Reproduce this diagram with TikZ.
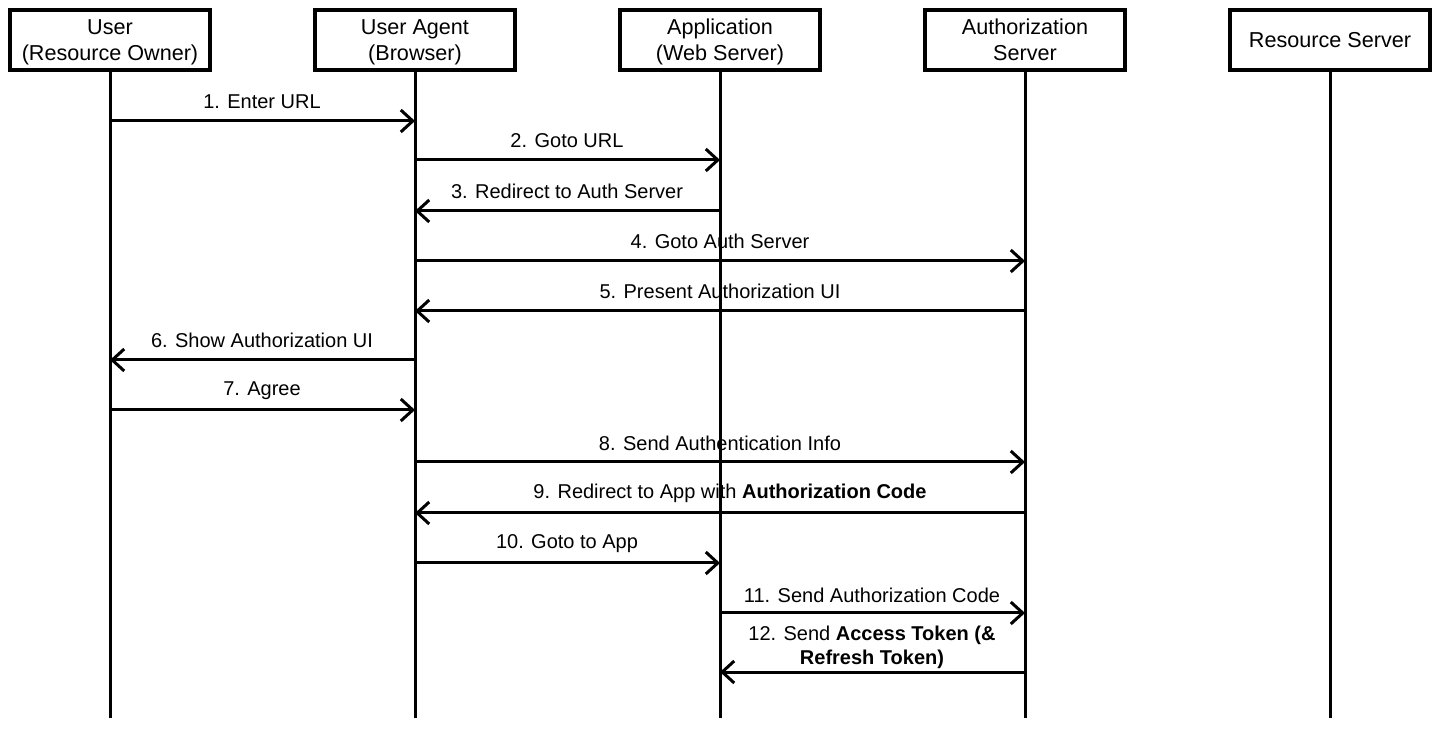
\documentclass[tikz,border=0pt]{standalone}
\usepackage{fontspec}
\setmainfont{Liberation Sans}
\usetikzlibrary{arrows.meta}
\begin{document}
\begin{tikzpicture}[x=0.5pt,y=-0.5pt,
 actor/.style={draw,line width=2pt,minimum width=100pt,minimum height=30pt,align=center,font=\fontsize{10.8}{13}\selectfont,inner sep=0pt,text depth=0pt},
 life/.style={line width=1.5pt},
 msg/.style={line width=1.5pt,-{Straight Barb[length=6pt,width=11pt,line width=1.5pt]}},
 lbl/.style={font=\fontsize{10}{12}\selectfont,inner sep=0pt,align=center}]
\useasboundingbox[fill=white] (0,0) rectangle (1440,731);
% actors
\node[actor] (A) at (110,40) {User\\(Resource Owner)};
\node[actor] (B) at (415,40) {User Agent\\(Browser)};
\node[actor] (C) at (720,40) {Application\\(Web Server)};
\node[actor] (D) at (1025,40) {Authorization\\Server};
\node[actor] (E) at (1330,40) {Resource Server};
% lifeline ends
\coordinate (Ae) at (110,718);
\coordinate (Be) at (415,718);
\coordinate (Ce) at (720,718);
\coordinate (De) at (1025,718);
\coordinate (Ee) at (1330,718);
\draw[life] (A) -- (Ae);
\draw[life] (B) -- (Be);
\draw[life] (C) -- (Ce);
\draw[life] (D) -- (De);
\draw[life] (E) -- (Ee);
% message levels
\coordinate (m1) at (0,121);
\coordinate (m2) at (0,160);
\coordinate (m3) at (0,211);
\coordinate (m4) at (0,261);
\coordinate (m5) at (0,311);
\coordinate (m6) at (0,360);
\coordinate (m7) at (0,410);
\coordinate (m8) at (0,462);
\coordinate (m9) at (0,513);
\coordinate (m10) at (0,563);
\coordinate (m11) at (0,613);
\coordinate (m12) at (0,672);
% messages
\draw[msg] (A |- m1) -- (B |- m1);
\draw[msg] (B |- m2) -- (C |- m2);
\draw[msg] (C |- m3) -- (B |- m3);
\draw[msg] (B |- m4) -- (D |- m4);
\draw[msg] (D |- m5) -- (B |- m5);
\draw[msg] (B |- m6) -- (A |- m6);
\draw[msg] (A |- m7) -- (B |- m7);
\draw[msg] (B |- m8) -- (D |- m8);
\draw[msg] (D |- m9) -- (B |- m9);
\draw[msg] (B |- m10) -- (C |- m10);
\draw[msg] (C |- m11) -- (D |- m11);
\draw[msg] (D |- m12) -- (C |- m12);
% labels
\node[lbl] (l1) at (262,102) {1. Enter URL};
\node[lbl] (l2) at (567,141) {2. Goto URL};
\node[lbl] (l3) at (567,191) {3. Redirect to Auth Server};
\node[lbl] (l4) at (720,241) {4. Goto Auth Server};
\node[lbl] (l5) at (720,291) {5. Present Authorization UI};
\node[lbl] (l6) at (262,340) {6. Show Authorization UI};
\node[lbl] (l7) at (262,391) {7. Agree};
\node[lbl] (l8) at (720,443) {8. Send Authentication Info};
\node[lbl] (l9) at (730,493) {9. Redirect to App with \textbf{Authorization Code}};
\node[lbl] (l10) at (567,544) {10. Goto to App};
\node[lbl] (l11) at (872,595) {11. Send Authorization Code};
\node[lbl] (l12) at (872,647) {12. Send \textbf{Access Token (\&}\\\textbf{Refresh Token)}};
\end{tikzpicture}
\end{document}
